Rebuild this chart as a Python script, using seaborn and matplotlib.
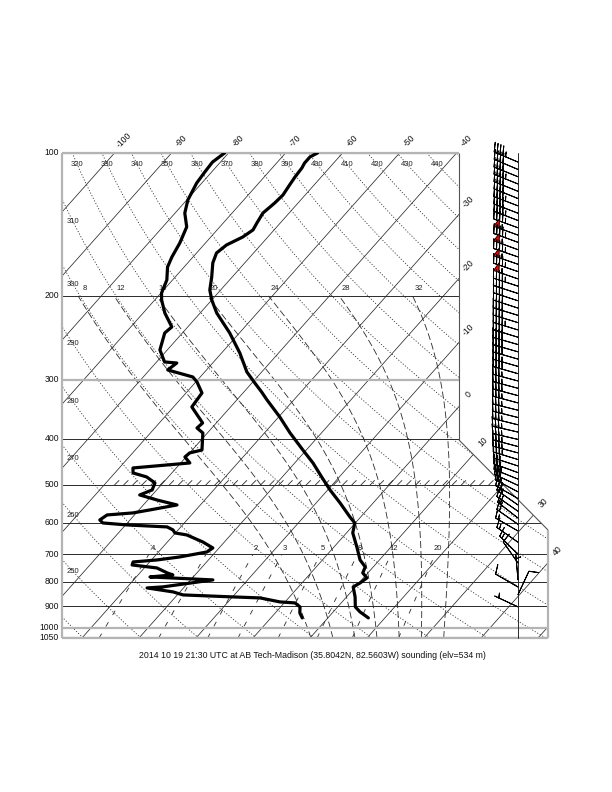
import numpy as np
import matplotlib
matplotlib.use('Agg')
import matplotlib.pyplot as plt
import seaborn as sns
import pandas as pd
from matplotlib.patches import Polygon
from matplotlib.path import Path
import matplotlib.patheffects as pe

sns.set_style('white')
plt.rcParams['font.family'] = ['Liberation Sans', 'DejaVu Sans']
plt.rcParams['lines.scale_dashes'] = False

# ---------------- data ----------------
temp_p = [100, 101.9, 105.0, 107.5, 112.3, 116.8, 122.6, 127.4, 133.8, 140.4, 145.2, 150.3,
          156.2, 162.4, 170.4, 182.4, 194.3, 203.9, 217.2, 239.3, 263.7, 289.1, 304.9, 318.5,
          331.1, 359.6, 388.6, 422.0, 449.4, 480.9, 512.2, 545.6, 583.8, 601.1, 630.9, 675.2,
          719.2, 744.0, 765.9, 784.7, 803.9, 819.6, 860.4, 903.1, 925.2, 952.5]
temp_c = [-64.4, -65.1, -65.1, -64.8, -64.6, -64.3, -63.9, -64.1, -64.6, -64.1, -63.7, -64.4,
          -66.0, -66.5, -65.6, -63.6, -61.9, -60.0, -57.1, -51.7, -46.8, -42.6, -39.5, -36.9,
          -34.7, -29.8, -25.5, -20.6, -16.8, -13.1, -9.6, -5.8, -1.9, -0.1, 1.1, 4.0,
          6.6, 8.6, 9.1, 10.6, 10.2, 9.6, 11.5, 13.1, 14.7, 17.1]

dwpt_p = [100, 104.5, 109.6, 115.7, 125.6, 133.8, 143.1, 154.7, 165.6, 173.8, 185.1, 197.1,
          203.9, 217.2, 232.4, 239.3, 259.8, 275.4, 276.8, 286.3, 296.2, 303.4, 320.1, 342.5,
          370.2, 379.3, 388.6, 422.0, 428.1, 436.5, 449.4, 453.8, 460.4, 471.7, 480.9, 495.1,
          512.2, 524.8, 537.7, 550.9, 564.4, 572.6, 578.2, 592.4, 601.1, 606.9, 612.8, 621.8,
          630.9, 637.1, 659.1, 678.5, 691.8, 708.8, 719.2, 726.2, 736.9, 747.6, 765.9, 773.3,
          780.9, 792.3, 819.6, 823.7, 839.8, 852.1, 860.4, 864.6, 881.5, 885.8, 903.1, 929.8,
          952.5]
dwpt_c = [-80.7, -81.4, -81.2, -80.9, -79.8, -78.3, -75.8, -74.5, -73.7, -72.9, -71.0, -69.9,
          -68.8, -66.2, -62.8, -63.1, -61.3, -58.6, -56.3, -56.8, -51.3, -49.8, -47.2, -46.8,
          -42.4, -42.6, -40.8, -38.3, -40.0, -40.2, -38.4, -42.1, -47.6, -46.8, -43.8, -41.4,
          -40.8, -42.2, -38.4, -34.1, -38.1, -40.6, -44.8, -45.3, -44.3, -39.8, -32.4, -30.9,
          -30.1, -27.7, -23.8, -21.1, -21.5, -25.5, -29.0, -32.9, -32.6, -27.8, -25.2, -23.9,
          -27.6, -16.1, -23.8, -26.4, -21.2, -19.0, -9.9, -5.0, -0.9, 1.9, 3.4, 4.3,
          5.5]

wind_p = [104.5, 108.3, 112.2, 116.2, 120.4, 124.7, 129.2, 133.9, 138.7, 143.7, 148.9, 154.2,
          159.8, 165.5, 171.5, 177.7, 184.1, 190.7, 197.6, 204.7, 212.1, 219.7, 227.6, 235.8,
          244.3, 253.1, 262.2, 271.6, 281.4, 291.5, 302.0, 312.9, 324.2, 335.9, 348.0, 360.5,
          373.5, 386.9, 400.9, 415, 428, 442, 456, 471, 486, 501, 517, 534, 551, 568, 587, 605,
          625, 660, 700, 730, 792, 820, 851, 903]
wind_dir = [293, 293, 292, 292, 292, 292, 291, 291, 291, 290, 290, 290,
            290, 289, 289, 289, 289, 288, 288, 288, 288, 287, 287, 287,
            287, 286, 286, 286, 286, 286, 285, 285, 285, 285, 284, 284,
            284, 283, 283, 285, 285, 287, 288, 290, 292, 295, 298, 300, 305, 305, 308, 305,
            300, 305, 315, 325, 355, 300, 25, 295]
wind_kt = [45, 40, 40, 45, 40, 40, 45, 40, 45, 45, 55, 45,
           55, 45, 55, 45, 55, 45, 40, 40, 40, 40, 40, 45,
           40, 40, 40, 40, 35, 40, 35, 35, 40, 35, 35, 35,
           35, 35, 35, 35, 35, 35, 30, 30, 30, 30, 25, 25, 25, 20, 20, 20,
           15, 15, 15, 10, 5, 10, 10, 5]

pressure_ticks = [100, 200, 300, 400, 500, 600, 700, 800, 900, 1000, 1050]
isotherm_values = list(range(-120, 60, 10))
isotherm_labels = [-100, -90, -80, -70, -60, -50, -40, -30, -20, -10, 0, 10, 30, 40]
theta_values = list(range(240, 620, 10))
theta_labels_top = [320, 330, 340, 350, 360, 370, 380, 390, 400, 410, 420, 430, 440]
theta_labels_left = [250, 260, 270, 280, 290, 300, 310]
theta_w_values = [8, 12, 16, 20, 24, 28, 32]
mixing_ratios = [0.4, 1, 2, 3, 5, 8, 12, 20]
mixing_labels = ['.4', '1', '2', '3', '5', '8', '12', '20']
title = "2014 10 19 21:30 UTC at AB Tech-Madison (35.8042N, 82.5603W) sounding (elv=534 m)"

# ---------------- geometry ----------------
P_BOT, P_TOP = 1050.0, 100.0
K = 32.2
XMIN, XMAX = -33.5, 51.75
W = XMAX - XMIN
LN = np.log(P_BOT / P_TOP)


def skx(T, p):
    return np.asarray(T, dtype=float) + K * np.log(P_BOT / np.asarray(p, dtype=float))


fig = plt.figure(figsize=(6.12, 7.92), dpi=100)
ax = fig.add_axes([62 / 612, 1 - 638 / 792, 486 / 612, 485 / 792])
ax.set_yscale('log')
ax.set_xlim(XMIN, XMAX)
ax.set_ylim(P_BOT, P_TOP)
ax.axis('off')

fx_r = 397 / 486
fy_r = 198 / 485
fy_d = 108 / 485
frame_verts = [(0, 0), (0, 1), (fx_r, 1), (fx_r, fy_r), (1, fy_d), (1, 0)]
clip = Polygon(frame_verts, closed=True, transform=ax.transAxes, facecolor='none', edgecolor='none')
ax.add_patch(clip)
frame_path = Path(frame_verts + [(0, 0)], closed=True)

DARK = '#2a2a2a'
GRAY = '#b4b4b4'
grid = []

parr = np.geomspace(P_BOT, P_TOP, 500)

# isotherms
for T in isotherm_values:
    l, = ax.plot(skx(np.full_like(parr, T), parr), parr, color=DARK, lw=0.55, zorder=2)
    grid.append(l)

# isobars
for pr in pressure_ticks:
    heavy = pr in (100, 300, 1000, 1050)
    l, = ax.plot([XMIN - 50, XMAX + 50], [pr, pr], color=GRAY if heavy else DARK,
                 lw=1.6 if heavy else 0.7, zorder=2.5 if heavy else 2)
    grid.append(l)

# dry adiabats
for th in theta_values:
    T = th * (parr / 1000.0) ** 0.2857 - 273.15
    l, = ax.plot(skx(T, parr), parr, color=DARK, lw=0.6, ls=(0, (0.8, 1.3)), zorder=2)
    grid.append(l)


# moist adiabats
def dTdp(T, p):
    Rd, Cp, Lv, eps = 287.04, 1005.7, 2.501e6, 0.622
    es = 6.112 * np.exp(17.67 * (T - 273.15) / (T - 29.65))
    rs = eps * es / (p - es)
    return ((Rd * T + Lv * rs) / p) / (Cp + Lv * Lv * rs * eps / (Rd * T * T))


def integrate(T0, plev):
    out = [T0]
    for i in range(len(plev) - 1):
        p0 = plev[i]
        h = plev[i + 1] - p0
        T = out[-1]
        k1 = dTdp(T, p0)
        k2 = dTdp(T + h * k1 / 2, p0 + h / 2)
        k3 = dTdp(T + h * k2 / 2, p0 + h / 2)
        k4 = dTdp(T + h * k3, p0 + h)
        out.append(T + h * (k1 + 2 * k2 + 2 * k3 + k4) / 6)
    return np.array(out)


p_up = np.arange(1000.0, 199.0, -2.0)
p_dn = np.arange(1000.0, 1051.0, 2.0)
for tw in theta_w_values:
    Tu = integrate(tw + 273.15, p_up) - 273.15
    Td_ = integrate(tw + 273.15, p_dn) - 273.15
    pp = np.concatenate([p_dn[::-1], p_up[1:]])
    TT = np.concatenate([Td_[::-1], Tu[1:]])
    l, = ax.plot(skx(TT, pp), pp, color=DARK, lw=0.6, ls=(0, (5.0, 2.2)), zorder=2)
    grid.append(l)
    ax.text(skx(np.interp(193.3, p_up[::-1], Tu[::-1]), 193.3), 193.3, str(tw),
            fontsize=5.5, ha='center', va='center', color='#222', zorder=3)

# mixing ratio lines
pm = np.geomspace(1050, 700, 60)
for w, lab in zip(mixing_ratios, mixing_labels):
    e = w * pm / (622.0 + w)
    a = np.log(e / 6.112)
    Td = 243.5 * a / (17.67 - a)
    l, = ax.plot(skx(Td, pm), pm, color=DARK, lw=0.6, ls=(0, (3.6, 6.0)), zorder=2)
    grid.append(l)
    e7 = w * 682.0 / (622.0 + w)
    a7 = np.log(e7 / 6.112)
    ax.text(skx(243.5 * a7 / (17.67 - a7), 682.0), 682.0, lab, fontsize=5.5,
            ha='center', va='center', color='#222', zorder=3)

# hatched 500 hPa line
l, = ax.plot([48 / 486, 1.0], [500, 500], transform=ax.get_yaxis_transform(), color=DARK,
             lw=0.6, alpha=1, path_effects=[pe.TickedStroke(angle=45, spacing=6.5, length=0.7)],
             zorder=2)
grid.append(l)

for g in grid:
    g.set_clip_path(clip)

# frame
def seg(p0, p1, color, lw):
    ax.plot([p0[0], p1[0]], [p0[1], p1[1]], transform=ax.transAxes, color=color, lw=lw,
            clip_on=False, zorder=3, solid_capstyle='butt')

seg((0, 0), (0, 1), GRAY, 1.6)
seg((0, 1), (fx_r, 1), GRAY, 1.6)
seg((fx_r, 1), (fx_r, fy_r), '#555555', 0.8)
seg((fx_r, fy_r), (1, fy_d), '#555555', 0.8)
seg((1, fy_d), (1, 0), GRAY, 1.6)
seg((0, 0), (1, 0), GRAY, 1.6)

# barb base line
xb = 456 / 486
ax.plot([xb, xb], [0, 1], transform=ax.transAxes, color=DARK, lw=0.7, clip_on=False, zorder=3)

# pressure labels
for pr in pressure_ticks:
    ax.text(-0.006, pr, str(pr), transform=ax.get_yaxis_transform(), ha='right', va='center',
            fontsize=6.2, color='#111')

# isotherm labels
b = K * LN / W
fys = np.linspace(0, 1, 4001)
for T in isotherm_labels:
    a0 = (T - XMIN) / W
    pts = np.column_stack([a0 + b * fys, fys])
    inside = frame_path.contains_points(pts, radius=-1e-9) | frame_path.contains_points(pts, radius=1e-9)
    if not inside.any():
        continue
    i = np.where(inside)[0].max()
    ax.annotate(str(T), xy=(pts[i, 0], pts[i, 1]), xycoords='axes fraction', xytext=(7, 9),
                textcoords='offset points', rotation=45, ha='center', va='center',
                fontsize=6.2, color='#111', annotation_clip=False)

# dry adiabat labels
for th in theta_labels_top:
    pl = 105.5
    T = th * (pl / 1000.0) ** 0.2857 - 273.15
    ax.text(skx(T, pl), pl, str(th), fontsize=5.5, ha='center', va='center', color='#222', zorder=3)
pa = np.geomspace(100, 1050, 800)
xt = XMIN + (11 / 486) * W
for th in theta_labels_left:
    T = th * (pa / 1000.0) ** 0.2857 - 273.15
    X = skx(T, pa)
    pl = np.interp(xt, X, pa)
    Tl = th * (pl / 1000.0) ** 0.2857 - 273.15
    ax.text(skx(Tl, pl), pl, str(th), fontsize=5.5, ha='center', va='center', color='#222', zorder=3)

# sounding traces
df_t = pd.DataFrame({'x': skx(temp_c, temp_p), 'p': temp_p})
df_d = pd.DataFrame({'x': skx(dwpt_c, dwpt_p), 'p': dwpt_p})
sns.lineplot(data=df_t, x='x', y='p', sort=False, estimator=None, color='black', lw=2.3, ax=ax, zorder=5)
sns.lineplot(data=df_d, x='x', y='p', sort=False, estimator=None, color='black', lw=2.3, ax=ax, zorder=5)

# wind barbs
wd = np.deg2rad(np.array(wind_dir, dtype=float))
ws = np.array(wind_kt, dtype=float)
u = -ws * np.sin(wd)
v = -ws * np.cos(wd)
ax.barbs(np.full(len(wind_p), xb), wind_p, u, v, transform=ax.get_yaxis_transform(),
         length=6.1, barbcolor='black', flagcolor='red', linewidth=0.7, zorder=6, clip_on=False,
         sizes=dict(spacing=0.12, height=0.36, width=0.22))

ax.set_xlim(XMIN, XMAX)
ax.set_ylim(P_BOT, P_TOP)
ax.set_xlabel('')
ax.set_ylabel('')

fig.text(312 / 612, 1 - 655 / 792, title, ha='center', va='center', fontsize=6.3, color='#111')

fig.savefig('out.png', dpi=100)
